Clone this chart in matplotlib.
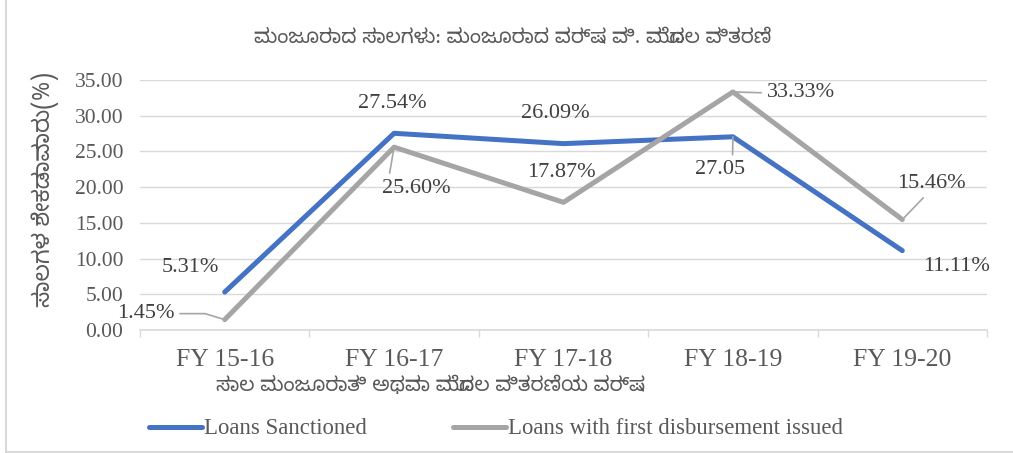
import matplotlib
matplotlib.use("Agg")
import matplotlib.pyplot as plt
from matplotlib.lines import Line2D

# data
years = ["FY 15-16", "FY 16-17", "FY 17-18", "FY 18-19", "FY 19-20"]
sanctioned = [5.31, 27.54, 26.09, 27.05, 11.11]
disbursed = [1.45, 25.60, 17.87, 33.33, 15.46]
sanctioned_labels = ["5.31%", "27.54%", "26.09%", "27.05", "11.11%"]
disbursed_labels = ["1.45%", "25.60%", "17.87%", "33.33%", "15.46%"]
yticks = [0, 5, 10, 15, 20, 25, 30, 35]

title = "ಮಂಜೂರಾದ ಸಾಲಗಳು: ಮಂಜೂರಾದ ವರ್ಷ ವಿ. ಮೊದಲ ವಿತರಣೆ"
xlabel = "ಸಾಲ ಮಂಜೂರಾತಿ ಅಥವಾ ಮೊದಲ ವಿತರಣೆಯ ವರ್ಷ"
ylabel = "ಸಾಲಗಳ ಶೇಕಡಾವಾರು(%)"

blue = "#4472C4"
grey = "#A5A5A5"
grid = "#D9D9D9"
txt = "#404040"
tick_col = "#595959"

plt.rcParams['font.family'] = ['Liberation Serif', 'Noto Sans Kannada']
kn = ['Noto Sans Kannada', 'DejaVu Sans']

fig = plt.figure(figsize=(10.13, 4.53), dpi=100)
ax = fig.add_axes([140/1013, 1-330/453, 847/1013, 250/453])

x = list(range(len(years)))
ax.plot(x, sanctioned, color=blue, lw=3.6, solid_capstyle='round', zorder=3)
ax.plot(x, disbursed, color=grey, lw=3.6, solid_capstyle='round', zorder=3)

ax.set_xlim(-0.5, 4.5)
ax.set_ylim(0, 35)
ax.set_yticks(yticks)
ax.set_yticklabels(["%.2f" % v for v in yticks])
ax.set_xticks(x)
ax.set_xticklabels(years)
ax.set_xticks([i - 0.5 for i in range(6)], minor=True)
ax.tick_params(axis='x', which='major', length=0, pad=14, labelsize=18.5, labelcolor=tick_col)
ax.tick_params(axis='x', which='minor', length=5, color=grid, width=1)
ax.tick_params(axis='y', length=0, pad=12, labelsize=15.5, labelcolor=tick_col)
ax.grid(axis='y', color=grid, lw=1)
ax.set_axisbelow(True)
for s in ['top', 'right', 'left']:
    ax.spines[s].set_visible(False)
ax.spines['bottom'].set_color(grid)
ax.spines['bottom'].set_linewidth(1.2)

# data labels: (dx, dy) pixel offsets, leader relpos or None
s_pos = [(-34, 25, None), (-2, 30, None), (-8, 30, None), (-13, -33, (0.75, 1)), (54, -16, None)]
d_pos = [(-79, 6, (1, 0.5)), (22, -41, (0.1, 1)), (-2, 30, None), (68, -1, (0, 0.5)), (29, 36, (0.45, 0))]

def put_labels(vals, labels, pos):
    for i, (v, lab, (dx, dy, rel)) in enumerate(zip(vals, labels, pos)):
        kw = {}
        if rel is not None:
            kw['arrowprops'] = dict(arrowstyle='-', color=grey, lw=1.2, shrinkA=2, shrinkB=0,
                                    relpos=rel)
            if i == 0:
                kw['arrowprops']['connectionstyle'] = "angle,angleA=0,angleB=-17,rad=0"
        ax.annotate(lab, (i, v), xytext=(dx * 0.72, dy * 0.72), textcoords='offset points',
                    ha='center', va='center', fontsize=16, color=txt, zorder=4, **kw)

put_labels(sanctioned, sanctioned_labels, s_pos)
put_labels(disbursed, disbursed_labels, d_pos)

fig.text(513/1013, 1-38/453, title, family=kn, fontsize=14.5, fontweight='bold',
         color=tick_col, ha='center', va='center')
fig.text(431/1013, 1-386/453, xlabel, family=kn, fontsize=14.5, color=tick_col,
         ha='center', va='center')
fig.text(45/1013, 1-190/453, ylabel, family=kn, fontsize=16.5, color=tick_col,
         ha='center', va='center', rotation=90)

handles = [Line2D([], [], color=blue, lw=3.6, solid_capstyle='round'),
           Line2D([], [], color=grey, lw=3.6, solid_capstyle='round')]
fig.legend(handles, ["Loans Sanctioned", "Loans with first disbursement issued"],
           loc='center', bbox_to_anchor=(496/1013, 1-429/453), ncol=2, frameon=False,
           fontsize=16.4, handlelength=2.3, handletextpad=0.1, columnspacing=3.8,
           borderpad=0, labelcolor=tick_col)

# chart border (left and bottom visible)
fig.add_artist(Line2D([5.5/1013, 5.5/1013], [1.5/453, 1], color=grid, lw=1.5))
fig.add_artist(Line2D([5.5/1013, 1], [1.5/453, 1.5/453], color=grid, lw=1.5))

fig.savefig("out.png", dpi=100)
